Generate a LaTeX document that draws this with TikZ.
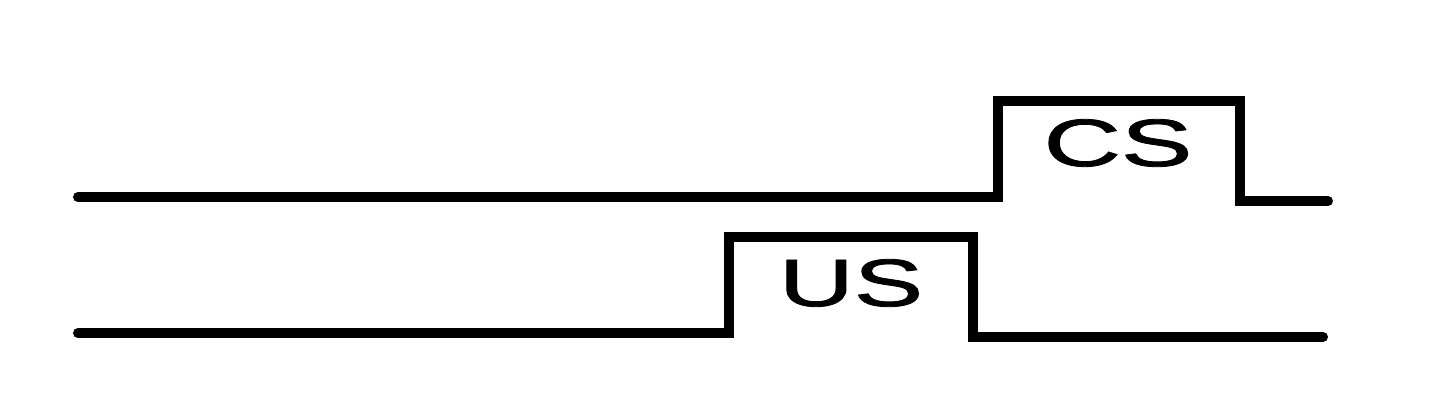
\documentclass[tikz,border=0pt]{standalone}
\usepackage{fontspec}
\setmainfont{Liberation Sans}
\newfontfamily\lblfont{Liberation Sans}[FakeBold=1.2]
\begin{document}
\begin{tikzpicture}[x=1pt,y=-1pt,
  wave/.style={line width=10pt,line cap=round,line join=miter,black},
  lbl/.style={inner sep=0pt,font=\lblfont\fontsize{67}{67}\selectfont}]
\useasboundingbox (0,0) rectangle (1440,408);
% CS waveform
\coordinate (cs0) at (78,197);
\coordinate (cs1) at (998,197);
\coordinate (cs2) at (998,101);
\coordinate (cs3) at (1240,101);
\coordinate (cs4) at (1240,201);
\coordinate (cs5) at (1328,201);
\draw[wave] (cs0) -- (cs1) -- (cs2) -- (cs3) -- (cs4) -- (cs5);
% US waveform
\coordinate (us0) at (78,333);
\coordinate (us1) at (729,333);
\coordinate (us2) at (729,237);
\coordinate (us3) at (973,237);
\coordinate (us4) at (973,337);
\coordinate (us5) at (1323,337);
\draw[wave] (us0) -- (us1) -- (us2) -- (us3) -- (us4) -- (us5);
\node[lbl] (cs) at (1118,143) {\scalebox{1.6}[1]{CS}};
\node[lbl] (us) at (851,283) {\scalebox{1.55}[1]{US}};
\end{tikzpicture}
\end{document}
